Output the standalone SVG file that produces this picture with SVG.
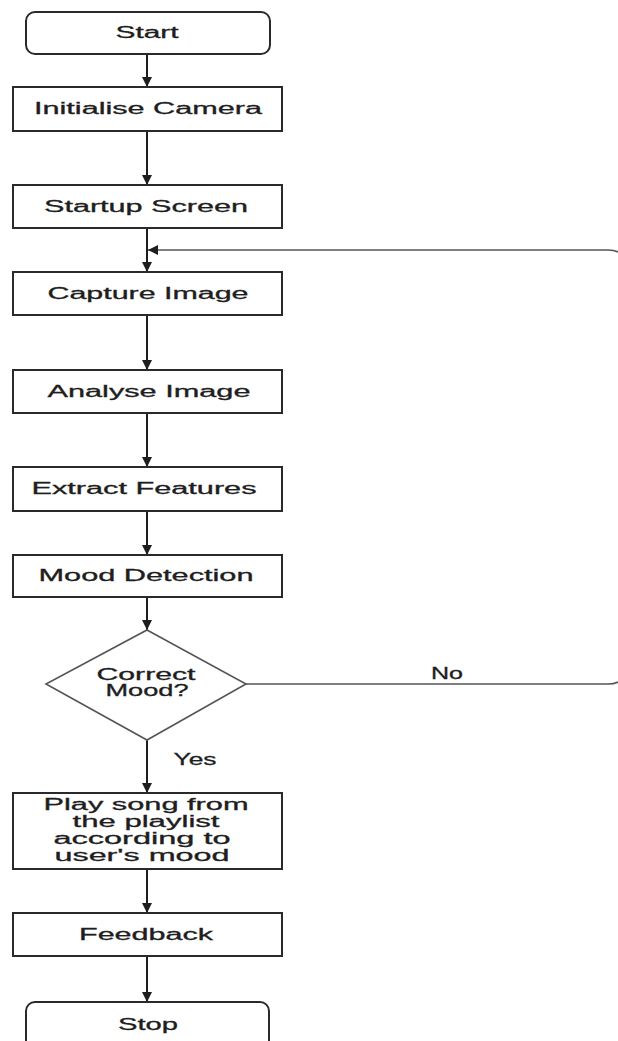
<svg xmlns="http://www.w3.org/2000/svg" width="618" height="1041" viewBox="0 0 618 1041">
  <style>
    .box { fill: #ffffff; stroke: #2a2a2a; stroke-width: 2; }
    .lbl { font-family: "Liberation Sans", Arial, sans-serif; font-size: 16px; fill: #1e1e1e; text-anchor: middle; stroke: #1e1e1e; stroke-width: 0.3; }
    .edge { fill: none; stroke: #1e1e1e; stroke-width: 2; }
    .thin { fill: none; stroke: #555555; stroke-width: 1.6; }
  </style>
  <defs>
    <marker id="arr" viewBox="0 0 10 10" refX="10" refY="5" markerWidth="10" markerHeight="10" markerUnits="userSpaceOnUse" orient="auto">
      <path d="M0,0 L10,5 L0,10 z" fill="#1e1e1e"/>
    </marker>
  </defs>
  <rect width="618" height="1041" fill="#ffffff"/>

  <g id="connectors">
    <line class="edge" x1="147" y1="54" x2="147" y2="87" marker-end="url(#arr)"/>
    <line class="edge" x1="147" y1="131" x2="147" y2="185" marker-end="url(#arr)"/>
    <line class="edge" x1="147" y1="228" x2="147" y2="272" marker-end="url(#arr)"/>
    <line class="edge" x1="147" y1="315" x2="147" y2="370" marker-end="url(#arr)"/>
    <line class="edge" x1="147" y1="413" x2="147" y2="467" marker-end="url(#arr)"/>
    <line class="edge" x1="147" y1="511" x2="147" y2="555" marker-end="url(#arr)"/>
    <line class="edge" x1="147" y1="597" x2="147" y2="630" marker-end="url(#arr)"/>
    <line class="edge" x1="147" y1="740" x2="147" y2="793" marker-end="url(#arr)"/>
    <line class="edge" x1="147" y1="869" x2="147" y2="913" marker-end="url(#arr)"/>
    <line class="edge" x1="147" y1="956" x2="147" y2="1002" marker-end="url(#arr)"/>
    <path class="thin" d="M246,684 H608 Q614,684 618,682"/>
    <path class="thin" d="M618,252 Q614,250 608,250 H148" marker-end="url(#arr)"/>
  </g>

  <g id="start">
    <rect class="box" x="26" y="12" width="244" height="42" rx="9"/>
    <text class="lbl" x="147" y="38" textLength="63" lengthAdjust="spacingAndGlyphs">Start</text>
  </g>
  <g id="initialise-camera">
    <rect class="box" x="13" y="87" width="269" height="44"/>
    <text class="lbl" x="148" y="114" textLength="228" lengthAdjust="spacingAndGlyphs">Initialise Camera</text>
  </g>
  <g id="startup-screen">
    <rect class="box" x="13" y="185" width="269" height="43"/>
    <text class="lbl" x="146" y="212" textLength="204" lengthAdjust="spacingAndGlyphs">Startup Screen</text>
  </g>
  <g id="capture-image">
    <rect class="box" x="13" y="272" width="269" height="43"/>
    <text class="lbl" x="148" y="299" textLength="201" lengthAdjust="spacingAndGlyphs">Capture Image</text>
  </g>
  <g id="analyse-image">
    <rect class="box" x="13" y="370" width="269" height="43"/>
    <text class="lbl" x="149" y="397" textLength="203" lengthAdjust="spacingAndGlyphs">Analyse Image</text>
  </g>
  <g id="extract-features">
    <rect class="box" x="13" y="467" width="269" height="44"/>
    <text class="lbl" x="144" y="494" textLength="225" lengthAdjust="spacingAndGlyphs">Extract Features</text>
  </g>
  <g id="mood-detection">
    <rect class="box" x="13" y="555" width="269" height="42"/>
    <text class="lbl" x="146" y="581" textLength="215" lengthAdjust="spacingAndGlyphs">Mood Detection</text>
  </g>
  <g id="correct-mood">
    <polygon points="147,630 246,684 147,740 46,684" fill="#ffffff" stroke="#555555" stroke-width="1.6"/>
    <text class="lbl" x="146" y="680" textLength="99" lengthAdjust="spacingAndGlyphs">Correct</text>
    <text class="lbl" x="147" y="696" textLength="83" lengthAdjust="spacingAndGlyphs">Mood?</text>
  </g>
  <text class="lbl" x="447" y="679" textLength="32" lengthAdjust="spacingAndGlyphs">No</text>
  <text class="lbl" x="195" y="765" textLength="43" lengthAdjust="spacingAndGlyphs">Yes</text>
  <g id="play-song">
    <rect class="box" x="13" y="793" width="269" height="76"/>
    <text class="lbl" x="146" y="810" textLength="205" lengthAdjust="spacingAndGlyphs">Play song from</text>
    <text class="lbl" x="146" y="827" textLength="147" lengthAdjust="spacingAndGlyphs">the playlist</text>
    <text class="lbl" x="142" y="844" textLength="177" lengthAdjust="spacingAndGlyphs">according to</text>
    <text class="lbl" x="142" y="861" textLength="175" lengthAdjust="spacingAndGlyphs">user's mood</text>
  </g>
  <g id="feedback">
    <rect class="box" x="13" y="913" width="269" height="43"/>
    <text class="lbl" x="146" y="940" textLength="134" lengthAdjust="spacingAndGlyphs">Feedback</text>
  </g>
  <g id="stop">
    <rect class="box" x="26" y="1002" width="243" height="50" rx="9"/>
    <text class="lbl" x="148" y="1030" textLength="60" lengthAdjust="spacingAndGlyphs">Stop</text>
  </g>
</svg>
